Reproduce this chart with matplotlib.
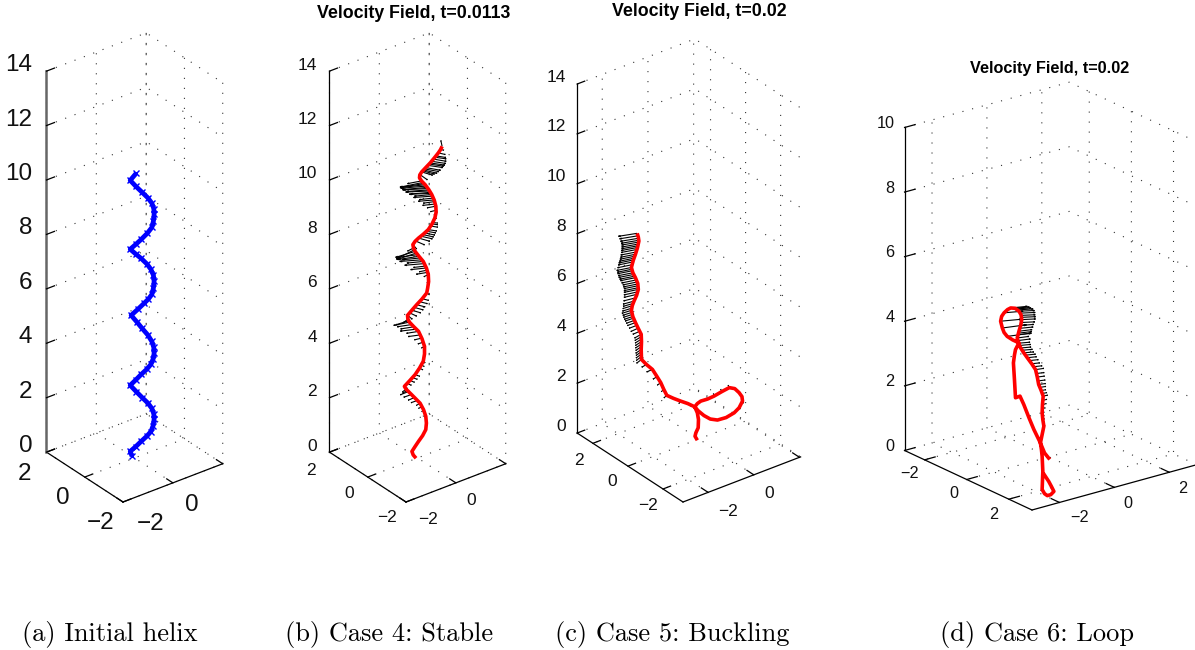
"""Four 3D filament panels: initial helix and velocity fields for cases 4-6."""
import numpy as np
import matplotlib

matplotlib.use("Agg")
import matplotlib.pyplot as plt
from mpl_toolkits.mplot3d import proj3d

plt.rcParams["font.family"] = ["Liberation Sans", "DejaVu Sans"]

WIDTH, HEIGHT = 1195, 650

# Only the projection can be read from the picture, so curves are kept as an
# offset across the view (p) and a height (z). lift() puts them in 3D.
helix_p = [.05, -.14, .04, .24, .42, .55, .61, .62, .60, .55, .40, .21, .04, -.14,
           .03, .21, .39, .52, .60, .62, .60, .55, .44, .30, .10, -.11,
           .07, .24, .42, .55, .61, .62, .59, .52, .38, .21, .04, -.14,
           .05, .24, .42, .55, .61, .62, .59, .52, .38, .21, .04, -.14, -.08]
helix_z = [10.46, 10.20, 9.98, 9.76, 9.56, 9.36, 9.16, 8.95, 8.71, 8.47, 8.25, 8.03, 7.85, 7.67,
           7.50, 7.33, 7.13, 6.93, 6.71, 6.49, 6.25, 6.01, 5.84, 5.68, 5.46, 5.24,
           5.00, 4.76, 4.52, 4.28, 4.06, 3.84, 3.64, 3.44, 3.25, 3.07, 2.87, 2.67,
           2.44, 2.22, 2.02, 1.82, 1.62, 1.42, 1.19, .97, .79, .61, .42, .24, .06]

stable_p = [.78, .73, .66, .53, .40, .26, .13, .07, .06, .13, .24, .35, .45, .53, .58, .59, .55, .46, .34,
            .18, .03, -.08, -.15, -.13, -.08, .05, .18, .28, .34, .35, .32, .29, .14, -.03, -.18, -.32,
            -.31, -.26, -.12, .03, .14, .22, .22, .18, .06, -.08, -.25, -.42, -.37, -.29, -.10, .08, .19,
            .26, .28, .26, .16, .03, -.08, -.18, -.14, -.05]
stable_z = [11.45, 11.33, 11.21, 11.02, 10.84, 10.67, 10.51, 10.40, 10.29, 10.17, 10.04, 9.87, 9.68, 9.47,
            9.25, 9.03, 8.82, 8.60, 8.39, 8.22, 8.08, 7.96, 7.84, 7.71, 7.59, 7.40, 7.22, 6.98, 6.74, 6.48,
            6.24, 6.06, 5.84, 5.63, 5.43, 5.24, 5.11, 4.99, 4.82, 4.65, 4.38, 4.10, 3.82, 3.55, 3.30, 3.06,
            2.84, 2.63, 2.53, 2.44, 2.22, 2.01, 1.77, 1.53, 1.28, 1.04, .82, .61, .42, .24, .11, -.01]
stable_arrow_p = [.78, .72, .66, .58, .51, .45, .40, .33, .26, .20, .13, .09, .06, .13, .24, .30, .36,
                  .41, .45, .50, .54, .58, .59, .58, .55, .49, .42, .34, .22, .10, .03, -.06, -.15,
                  -.12, -.08, 0, .09, .18, .25, .30, .34, .34, .31, .29, .15, -.03, -.18, -.32, -.29,
                  -.26, -.12, .03, .12, .22, .21, .18, .05, -.08, -.25, -.42, -.36, -.29, -.10, .08,
                  .18, .26,
                  .16, .20, .27, .33, .38, .43, .47, .52, .56,
                  -.10, -.04, .04, .13, .21, .28, .32,
                  -.27, -.19, -.05, .08, .17,
                  -.33, -.20, -.01, .13,
                  .55, .36, .23, .16, .46, .28, .16, .07, -.10, -.25, .12, -.16, -.33]
stable_arrow_z = [11.45, 11.33, 11.21, 11.10, 10.98, 10.90, 10.84, 10.75, 10.67, 10.58, 10.51, 10.40,
                  10.29, 10.18, 10.04, 9.94, 9.85, 9.76, 9.68, 9.55, 9.42, 9.25, 9.10, 8.95, 8.82, 8.65,
                  8.52, 8.39, 8.27, 8.15, 8.08, 7.97, 7.84, 7.72, 7.59, 7.47, 7.35, 7.22, 7.05, 6.90,
                  6.74, 6.50, 6.24, 6.06, 5.85, 5.63, 5.43, 5.24, 5.12, 4.99, 4.82, 4.65, 4.40, 4.10,
                  3.80, 3.55, 3.30, 3.06, 2.85, 2.63, 2.53, 2.44, 2.22, 2.01, 1.75, 1.53,
                  10.12, 10.08, 9.99, 9.90, 9.81, 9.72, 9.62, 9.48, 9.33,
                  7.65, 7.53, 7.41, 7.28, 7.14, 6.98, 6.82,
                  5.05, 4.90, 4.73, 4.52, 4.25,
                  2.48, 2.33, 2.11, 1.88,
                  11.05, 10.80, 10.62, 10.55, 8.60, 8.33, 8.21, 5.74, 5.53, 5.33, 3.42, 2.95, 2.74]
stable_arrow_dp = [-.04, .12, .22, .32, .40, .45, .47, .47, .47, .42, .35, .22, .08, -.45, -.80, -.78,
                   -.72, -.62, -.55, -.45, -.36, -.28, -.18, -.06, .06, .15, .22, .27, .33, .37, .36,
                   .28, .12, -.20, -.62, -.62, -.58, -.52, -.38, -.25, -.14, -.04, .02, .08, .20, .27,
                   .28, .15, -.15, -.50, -.42, -.38, -.22, -.10, .02, .06, .12, .15, .15, .10, -.12,
                   -.26, -.20, -.12, -.05, -.02,
                   -.72, -.76, -.80, -.80, -.76, -.70, -.60, -.50, -.40,
                   -.58, -.62, -.66, -.70, -.62, -.50, -.36,
                   -.42, -.46, -.50, -.38, -.16,
                   -.15, -.24, -.20, -.10,
                   .36, .47, .45, .38, .18, .30, .35, .24, .28, .22, .09, .15, .13]
stable_arrow_dz = [.21, -.02, -.06, -.06, -.08, -.08, -.08, -.08, -.10, -.12, -.12, -.18, -.20, -.10,
                   -.11, -.08, -.06, -.06, -.06, -.06, -.06, -.06, -.05, -.03, -.02, -.02, -.04, -.05,
                   -.08, -.10, -.12, -.14, -.16, -.12, -.22, -.10, -.07, -.06, -.05, -.06, -.08, -.06,
                   -.05, -.05, -.06, -.08, -.10, -.14, -.14, -.12, -.08, -.07, -.06, -.06, -.06, -.06,
                   -.06, -.06, -.07, -.08, -.10, -.12, -.10, -.08, -.05, -.04,
                   -.17, -.14, -.08, -.05, -.04, -.03, -.05, -.05, -.05,
                   -.34, -.24, -.12, -.06, -.06, -.06, -.07,
                   -.16, -.08, -.07, -.06, -.06,
                   -.10, -.10, -.08, -.06,
                   -.06, -.08, -.10, -.12, -.03, -.06, -.09, -.07, -.09, -.12, -.06, -.06, -.07]

buckling_p = [-2.14, -2.10, -2.08, -2.13, -2.20, -2.28, -2.34, -2.29, -2.20, -2.12, -2.10, -2.16, -2.25, -2.31,
              -2.34, -2.29, -2.20, -2.10, -2.00, -1.99, -2.00, -1.99, -1.82, -1.61, -1.46, -1.32, -1.22, -1.11,
              -.88, -.63, -.38, -.14, -.05, .07, .30, .53, .80, 1.06, 1.25, 1.40, 1.50, 1.52, 1.40, 1.23, .95,
              .65, .40, .18, -.02, -.14, -.05, -.01, -.02, -.10, -.13, -.05]
buckling_z = [8.25, 8.10, 7.94, 7.67, 7.41, 7.15, 6.88, 6.67, 6.47, 6.24, 6.00, 5.76, 5.53, 5.35, 5.16, 4.91,
              4.67, 4.43, 4.20, 3.90, 3.59, 3.19, 2.99, 2.79, 2.52, 2.26, 2.00, 1.75, 1.63, 1.52, 1.42, 1.29,
              1.42, 1.52, 1.60, 1.72, 1.90, 2.06, 2.02, 1.86, 1.70, 1.52, 1.25, 1.05, .86, .76, .80, .94, 1.13,
              1.29, 1.05, .78, .45, .25, .11, -.05]
buckling_arrow_p = [-2.14, -2.10, -2.08, -2.12, -2.16, -2.20, -2.26, -2.30, -2.34, -2.30, -2.26, -2.20,
                    -2.14, -2.10, -2.10, -2.16, -2.25, -2.30, -2.34, -2.30, -2.26, -2.20, -2.10, -2.00,
                    -2.00, -2.00, -2.00, -2.00, -1.99, -1.80, -1.61, -1.45, -1.32, -1.20, -1.11, -.63,
                    .53, .80, 1.06, 1.52, 1.40,
                    -2.12, -2.09, -2.10, -2.14, -2.18, -2.23, -2.28, -2.32, -2.32, -2.28, -2.23, -2.17,
                    -2.12, -2.10, -2.13, -2.20, -2.27, -2.32, -2.32, -2.28, -2.23, -2.15, -2.05,
                    -2.00, -2.00, -2.00, -2.00, -2.00]
buckling_arrow_z = [8.25, 8.05, 7.90, 7.75, 7.60, 7.41, 7.25, 7.10, 6.88, 6.75, 6.60, 6.47, 6.30, 6.15,
                    6.00, 5.80, 5.53, 5.35, 5.16, 5.00, 4.85, 4.67, 4.45, 4.20, 4.00, 3.80, 3.59, 3.40,
                    3.19, 3.00, 2.79, 2.50, 2.26, 2.00, 1.75, 1.52, 1.72, 1.90, 2.06, 1.52, 1.30,
                    8.15, 7.97, 7.82, 7.68, 7.50, 7.33, 7.18, 6.99, 6.81, 6.67, 6.53, 6.38,
                    6.22, 6.07, 5.90, 5.66, 5.44, 5.25, 5.08, 4.92, 4.76, 4.56, 4.32,
                    4.10, 3.90, 3.70, 3.50, 3.30]
buckling_arrow_dp = [-.65, -.62, -.60, -.56, -.54, -.52, -.50, -.50, -.51, -.52, -.52, -.52, -.50, -.50,
                     -.50, -.44, -.38, -.34, -.33, -.32, -.30, -.28, -.26, -.23, -.21, -.20, -.19, -.18,
                     -.17, -.18, -.20, -.14, -.12, -.10, -.10, -.06, -.02, -.04, -.04, .04, .04,
                     -.63, -.61, -.58, -.55, -.53, -.51, -.50, -.50, -.51, -.52, -.52, -.51,
                     -.50, -.50, -.47, -.41, -.36, -.33, -.32, -.31, -.29, -.27, -.24,
                     -.22, -.20, -.19, -.18, -.17]
buckling_arrow_dz = [-.12, -.12, -.12, -.12, -.12, -.12, -.12, -.12, -.12, -.12, -.12, -.12, -.12, -.12,
                     -.12, -.12, -.12, -.12, -.12, -.12, -.12, -.12, -.14, -.15, -.15, -.15, -.15, -.15,
                     -.15, -.12, -.10, -.10, -.10, -.10, -.10, -.10, .10, .10, .10, -.08, -.10,
                     -.12, -.12, -.12, -.12, -.12, -.12, -.12, -.12, -.12, -.12, -.12, -.12,
                     -.12, -.12, -.12, -.12, -.12, -.12, -.12, -.12, -.12, -.12, -.12,
                     -.15, -.15, -.15, -.15, -.15]

loop_p = [.02, -.13, -.25, -.44, -.58, -.73, -.84, -.97, -1.00, -1.03, -1.00, -.97, -.87, -1.05, -1.21, -1.30,
          -1.35, -1.40, -1.37, -1.30, -1.20, -1.11, -.98, -.87, -.81, -.79, -.82, -.87, -.92, -.88, -.82, -.73,
          -.63, -.50, -.39, -.34, -.30, -.23, -.17, -.19, -.20, -.18, -.15, -.20, -.25, -.22, -.20, -.18, -.20,
          -.13, -.05, .05, .14, .07, -.01, -.17]
loop_z = [-.08, .12, .43, .85, 1.21, 1.62, 1.88, 1.83, 2.39, 2.91, 3.15, 3.32, 3.53, 3.62, 3.73, 3.85, 3.99,
          4.20, 4.35, 4.46, 4.56, 4.61, 4.60, 4.51, 4.40, 4.25, 4.07, 3.89, 3.68, 3.52, 3.37, 3.22, 3.07, 2.88,
          2.70, 2.47, 2.24, 2.06, 1.88, 1.62, 1.36, 1.15, .95, .69, .43, .22, .02, -.45, -1.01, -1.14, -1.20,
          -1.17, -1.07, -.92, -.76, -.50]
loop_arrow_p = [-1.11, -.98, -.87, -.82, -.79, -.82, -.87, -.90, -.92, -.87, -.82, -.72, -.63, -.52, -.39,
                -.35, -.30, -.24, -.17, -.18, -.20, -.18, -.15, -1.21, -1.35, -1.40, -1.30,
                -1.04, -.92, -.84, -.80, -.80, -.84, -.88, -.90, -.84, -.77, -.67, -.57, -.45, -.37, -.32,
                -.27, -.20, -.18, -.19, -.19, -.17]
loop_arrow_z = [4.61, 4.58, 4.51, 4.38, 4.25, 4.07, 3.89, 3.78, 3.68, 3.52, 3.37, 3.22, 3.07, 2.88, 2.70,
                2.47, 2.24, 2.05, 1.88, 1.62, 1.36, 1.15, .95, 3.73, 3.99, 4.20, 4.46,
                4.60, 4.55, 4.45, 4.32, 4.16, 3.98, 3.83, 3.60, 3.45, 3.30, 3.15, 2.98, 2.79, 2.58, 2.35,
                2.15, 1.96, 1.75, 1.49, 1.25, 1.05]
loop_arrow_dp = [.48, .46, .45, .42, .40, .38, .38, .38, .34, .32, .30, .28, .27, .25, .24, .22, .20, .15,
                 .13, .10, .06, .05, .03, .70, .70, .60, .55,
                 .47, .46, .44, .41, .39, .38, .38, .36, .31, .29, .28, .26, .25, .23, .21, .18, .14, .12,
                 .08, .05, .04]
loop_arrow_dz = [.05, .03, .02, .02, .02, .03, .05, .05, .05, .03, .03, .03, .03, .03, .04, .03, .03, .03,
                 .03, .03, .03, .03, .03, .10, .10, .06, .05,
                 .04, .03, .02, .02, .02, .04, .05, .05, .03, .03, .03, .03, .03, .03, .03, .03, .03, .03,
                 .03, .03, .03]

xy_ticks = [-2, 0, 2]
z_ticks_tall = [0, 2, 4, 6, 8, 10, 12, 14]
z_ticks_short = [0, 2, 4, 6, 8, 10]
x_labels_two = ["\u22122", "0"]
x_labels_three = ["\u22122", "0", "2"]
y_labels = ["\u22122", "0", "2"]
captions = ["(a) Initial helix", "(b) Case 4: Stable", "(c) Case 5: Buckling", "(d) Case 6: Loop"]
titles = ["Velocity Field, t=0.0113", "Velocity Field, t=0.02", "Velocity Field, t=0.02"]

ANGLE = np.radians(37.5)


def lift(p, flip=False):
    """Horizontal view offset -> x, y in the plane that faces the camera."""
    p = np.asarray(p, dtype=float)
    side = 1.0 if flip else -1.0
    return p * np.cos(ANGLE), side * p * np.sin(ANGLE)


def to_view(ax, x, y, z):
    px, py, _ = proj3d.proj_transform(x, y, z, ax.get_proj())
    return px, py


def to_pixels(ax, x, y, z):
    return ax.transData.transform(to_view(ax, x, y, z))


def fit_box(ax, corner, front_px, z_len_px):
    """Scale and move the 3D box so its front corner lands on front_px."""
    xl, yl, zl = ax.get_xlim(), ax.get_ylim(), ax.get_zlim()
    aspect = (abs(xl[1] - xl[0]), abs(yl[1] - yl[0]), zl[1] - zl[0])
    ax.set_box_aspect(aspect)
    ax.apply_aspect()
    a = to_pixels(ax, corner[0], corner[1], zl[0])
    b = to_pixels(ax, corner[0], corner[1], zl[1])
    ax.set_box_aspect(aspect, zoom=z_len_px / abs(b[1] - a[1]))
    ax.apply_aspect()
    a = to_pixels(ax, corner[0], corner[1], zl[0])
    pos = ax.get_position()
    dx = (front_px[0] - a[0]) / WIDTH
    dy = ((HEIGHT - front_px[1]) - a[1]) / HEIGHT
    ax.set_position([pos.x0 + dx, pos.y0 + dy, pos.width, pos.height])
    ax.apply_aspect()


def put_label(ax, text, at, offset, size, ha="center"):
    ax.annotate(text, xy=to_view(ax, *at), xytext=offset, textcoords="offset pixels", ha=ha, va="center",
                fontsize=size, color="#111111", annotation_clip=False)


def make_panel(fig, xlim, ylim, zlim, zticks, elev, front_px, z_len_px, tick_len,
               axis_color="k", axis_width=0.9):
    ax = fig.add_axes([0.1, 0.1, 0.8, 0.8 * WIDTH / HEIGHT], projection="3d",
                      proj_type="ortho", computed_zorder=False)
    ax.view_init(elev=elev, azim=-127.5)
    ax.patch.set_visible(False)
    ax.set_xticks(xy_ticks, labels=["", "", ""])
    ax.set_yticks(xy_ticks, labels=["", "", ""])
    ax.set_zticks(zticks, labels=[""] * len(zticks))
    for axis in (ax.xaxis, ax.yaxis, ax.zaxis):
        axis.set_pane_color((1, 1, 1, 0))
        axis.pane.set_edgecolor((1, 1, 1, 0))
        axis.line.set_color("k")
        axis.line.set_linewidth(0.9)
        axis._axinfo["grid"].update(color="#333333", linewidth=0.8, linestyle=(0, (1, 8)))
        axis._axinfo["tick"].update(inward_factor=0.0, outward_factor=tick_len,
                                    linewidth={True: .9, False: .5})
    ax.zaxis.line.set_color(axis_color)
    ax.zaxis.line.set_linewidth(axis_width)
    ax.set_xlim(*xlim)
    ax.set_ylim(*ylim)
    ax.set_zlim(*zlim)
    fit_box(ax, (xlim[0], ylim[0]), front_px, z_len_px)
    return ax


def label_panel(ax, x_labels, size, x_offsets, y_offsets, z_offset, zticks):
    ylim, xlim = ax.get_ylim(), ax.get_xlim()
    for tick, text, offset in zip(xy_ticks, x_labels, x_offsets):
        put_label(ax, text, (tick, ylim[0], 0), offset, size)
    for tick, text, offset in zip(xy_ticks, y_labels, y_offsets):
        put_label(ax, text, (xlim[0], tick, 0), offset, size)
    for tick in zticks:
        put_label(ax, str(tick), (xlim[0], ylim[1], tick), z_offset, size, ha="right")


def draw_curve(ax, p, z, color, width, flip=False, marker=None):
    x, y = lift(p, flip)
    ax.plot(x, y, z, color=color, lw=width, zorder=5, solid_capstyle="butt", solid_joinstyle="round",
            marker=marker, ms=4, mew=1)


def draw_arrows(ax, p, z, dp, dz, flip=False):
    x, y = lift(p, flip)
    u, v = lift(dp, flip)
    ax.quiver(x, y, z, u, v, dz, color="k", lw=0.8, arrow_length_ratio=0.12, zorder=4)


fig = plt.figure(figsize=(WIDTH / 100, HEIGHT / 100), dpi=100)

ax_a = make_panel(fig, (-2, 2), (-2, 2), (0, 14), z_ticks_tall, 30, (123, 502), 381, 1.0,
                  axis_color="#666666", axis_width=1.8)
label_panel(ax_a, x_labels_two, 17.5, [(28, -22), (19, -22)], [(-22, -21), (-22, -21), (-22, -22)],
            (-14, 6), z_ticks_tall)
draw_curve(ax_a, helix_p, helix_z, "#0000ff", 3.4, marker="x")

ax_b = make_panel(fig, (-2, 2), (-2, 2), (0, 14), z_ticks_tall, 30, (406, 502), 381, 1.0)
label_panel(ax_b, x_labels_two, 12.5, [(22, -18), (15, -18)], [(-19, -16), (-19, -16), (-19, -18)],
            (-12.5, 6), z_ticks_tall)
draw_arrows(ax_b, stable_arrow_p, stable_arrow_z, stable_arrow_dp, stable_arrow_dz)
draw_curve(ax_b, stable_p, stable_z, "#ff0000", 2.6)

ax_c = make_panel(fig, (-3.1, 2.05), (-3.14, 2.9), (0, 14), z_ticks_tall, 30, (683, 502), 349, 0.8)
label_panel(ax_c, x_labels_two, 12.5, [(20, -19), (15, -19)], [(-15, -17), (-16, -15), (-14, -17)],
            (-11, 7), z_ticks_tall)
draw_arrows(ax_c, buckling_arrow_p, buckling_arrow_z, buckling_arrow_dp, buckling_arrow_dz)
draw_curve(ax_c, buckling_p, buckling_z, "#ff0000", 2.6)

ax_d = make_panel(fig, (-3, 3), (3.1, -2.95), (0, 10), z_ticks_short, 21, (1032, 510), 323, 0.8)
label_panel(ax_d, x_labels_three, 11.7, [(20, -15), (14, -16), (13, -16)], [(-15, -14), (-13, -14), (-15, -15)],
            (-10, 4), z_ticks_short)
draw_arrows(ax_d, loop_arrow_p, loop_arrow_z, loop_arrow_dp, loop_arrow_dz, flip=True)
draw_curve(ax_d, loop_p, loop_z, "#ff0000", 2.6, flip=True)

fig.text(414 / WIDTH, 1 - 13 / HEIGHT, titles[0], ha="center", va="center", fontsize=12.8, fontweight="bold")
fig.text(699 / WIDTH, 1 - 12 / HEIGHT, titles[1], ha="center", va="center", fontsize=12.8, fontweight="bold")
fig.text(1050 / WIDTH, 1 - 68.5 / HEIGHT, titles[2], ha="center", va="center", fontsize=11.7, fontweight="bold")

caption_left = [22, 285, 555, 940]
for text, left in zip(captions, caption_left):
    fig.text(left / WIDTH, 1 - 634 / HEIGHT, text, family="cmr10", fontsize=19, ha="left", va="center")

fig.savefig("out.png", dpi=100)
